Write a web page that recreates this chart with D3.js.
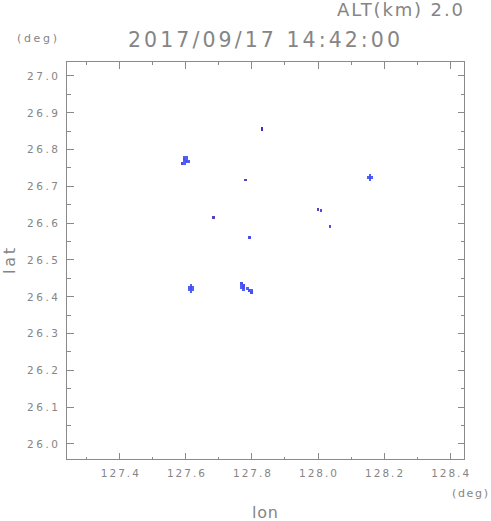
<!DOCTYPE html>
<html>
<head>
<meta charset="utf-8">
<script src="https://cdn.jsdelivr.net/npm/d3@7"></script>
<style>
  html, body { margin: 0; padding: 0; background: #fff; }
  svg { display: block; }
  text { font-family: "DejaVu Sans", "Liberation Sans", sans-serif; fill: #858585; }
</style>
</head>
<body>
<svg id="chart" width="491" height="521"></svg>
<script>
// ---------- data ----------
const titleText = "2017/09/17 14:42:00";
const altText = "ALT(km) 2.0";
const xLabel = "lon";
const yLabel = "lat";
const unitText = "(deg)";

const lonDomain = [127.240, 128.445];
const latDomain = [25.9565, 27.038];
const lonTicks = [127.4, 127.6, 127.8, 128.0, 128.2, 128.4];
const lonMinorTicks = [127.3, 127.5, 127.7, 127.9, 128.1, 128.3];
const latTicks = [26.0, 26.1, 26.2, 26.3, 26.4, 26.5, 26.6, 26.7, 26.8, 26.9, 27.0];
const latMinorTicks = [26.05, 26.15, 26.25, 26.35, 26.45, 26.55, 26.65, 26.75, 26.85, 26.95];

// echo cells: lon, lat, level
const cellLon = [
  127.597, 127.603, 127.597, 127.603, 127.597, 127.603, 127.609, 127.591, 127.597,
  127.618, 127.612, 127.618, 127.624, 127.612, 127.618, 127.624, 127.618,
  127.770, 127.770, 127.776, 127.770, 127.776, 127.776,
  127.788, 127.794, 127.800, 127.800,
  128.159, 128.153, 128.159, 128.165, 128.159,
  127.831, 127.831,
  127.782, 128.001, 128.010, 128.037, 128.037, 127.685, 127.794
];
const cellLat = [
  26.777, 26.777, 26.772, 26.772, 26.766, 26.766, 26.766, 26.761, 26.761,
  26.429, 26.424, 26.424, 26.424, 26.418, 26.418, 26.418, 26.413,
  26.435, 26.429, 26.429, 26.424, 26.424, 26.418,
  26.421, 26.416, 26.416, 26.410,
  26.728, 26.723, 26.723, 26.723, 26.717,
  26.857, 26.852,
  26.717, 26.636, 26.633, 26.592, 26.588, 26.614, 26.560
];
const cellLevel = [
  1, 1, 2, 1, 1, 2, 1, 2, 1,
  1, 1, 2, 1, 1, 2, 1, 1,
  2, 1, 2, 1, 2, 1,
  1, 2, 1, 2,
  1, 1, 2, 1, 1,
  4, 4,
  3, 3, 2, 2, 2, 3, 2
];
const levelColors = ["#4c62f6", "#4a4cf0", "#5843b8", "#3b2ec8"];
const cellSizeLon = 0.0068;
const cellSizeLat = 0.0061;

// ---------- layout ----------
const svg = d3.select("#chart");
const plot = { left: 66.5, right: 464.5, top: 61.5, bottom: 459.5 };

const x = d3.scaleLinear().domain(lonDomain).range([plot.left, plot.right]);
const y = d3.scaleLinear().domain(latDomain).range([plot.bottom, plot.top]);

const axisColor = "#8a8a8a";

// echoes
const cells = cellLon.map((lon, i) => ({ lon, lat: cellLat[i], level: cellLevel[i] }));
svg.append("g")
  .selectAll("rect")
  .data(cells)
  .join("rect")
  .attr("x", d => x(d.lon - cellSizeLon / 2))
  .attr("y", d => y(d.lat + cellSizeLat / 2))
  .attr("width", d => x(d.lon + cellSizeLon / 2) - x(d.lon - cellSizeLon / 2))
  .attr("height", d => y(d.lat - cellSizeLat / 2) - y(d.lat + cellSizeLat / 2))
  .attr("fill", d => levelColors[d.level - 1])
  .attr("shape-rendering", "crispEdges");

// axes (ticks inward)
function styleAxis(g) {
  g.select(".domain").remove();
  g.selectAll("line").attr("stroke", axisColor).attr("shape-rendering", "crispEdges");
}

const fmt = d3.format(".1f");

// bottom
svg.append("g").attr("transform", `translate(0,${plot.bottom})`)
  .call(d3.axisBottom(x).tickValues(lonTicks).tickSize(-7).tickPadding(12).tickFormat(fmt))
  .call(styleAxis)
  .call(g => g.selectAll("text")
    .attr("font-size", 10.5).attr("fill", "#858585")
    .attr("textLength", 38).attr("lengthAdjust", "spacing")
    .attr("y", 17).attr("dy", 0));
svg.append("g").attr("transform", `translate(0,${plot.bottom})`)
  .call(d3.axisBottom(x).tickValues(lonMinorTicks).tickSize(-3).tickFormat(""))
  .call(styleAxis);

// top
svg.append("g").attr("transform", `translate(0,${plot.top})`)
  .call(d3.axisTop(x).tickValues(lonTicks).tickSize(-7).tickFormat(""))
  .call(styleAxis);
svg.append("g").attr("transform", `translate(0,${plot.top})`)
  .call(d3.axisTop(x).tickValues(lonMinorTicks).tickSize(-3).tickFormat(""))
  .call(styleAxis);

// left
svg.append("g").attr("transform", `translate(${plot.left},0)`)
  .call(d3.axisLeft(y).tickValues(latTicks).tickSize(-7).tickPadding(8).tickFormat(fmt))
  .call(styleAxis)
  .call(g => g.selectAll("text")
    .attr("font-size", 10.5).attr("fill", "#858585")
    .attr("textLength", 31).attr("lengthAdjust", "spacing")
    .attr("x", -8.5).attr("dy", "0.36em"));
svg.append("g").attr("transform", `translate(${plot.left},0)`)
  .call(d3.axisLeft(y).tickValues(latMinorTicks).tickSize(-4).tickFormat(""))
  .call(styleAxis);

// right
svg.append("g").attr("transform", `translate(${plot.right},0)`)
  .call(d3.axisRight(y).tickValues(latTicks).tickSize(-7).tickFormat(""))
  .call(styleAxis);
svg.append("g").attr("transform", `translate(${plot.right},0)`)
  .call(d3.axisRight(y).tickValues(latMinorTicks).tickSize(-4).tickFormat(""))
  .call(styleAxis);

// frame
svg.append("rect")
  .attr("x", plot.left).attr("y", plot.top)
  .attr("width", plot.right - plot.left).attr("height", plot.bottom - plot.top)
  .attr("fill", "none").attr("stroke", axisColor).attr("stroke-width", 1);

// texts
svg.append("text").text(altText)
  .attr("x", 337).attr("y", 16).attr("font-size", 18)
  .attr("textLength", 126).attr("lengthAdjust", "spacing");

svg.append("text").text(titleText)
  .attr("x", 128).attr("y", 47).attr("font-size", 20.5)
  .attr("textLength", 272).attr("lengthAdjust", "spacing");

svg.append("text").text(unitText)
  .attr("x", 17).attr("y", 42).attr("font-size", 11)
  .attr("textLength", 40).attr("lengthAdjust", "spacing");

svg.append("text").text(unitText)
  .attr("x", 452).attr("y", 497).attr("font-size", 11)
  .attr("textLength", 36).attr("lengthAdjust", "spacing");

svg.append("text").text(xLabel)
  .attr("x", 252).attr("y", 518).attr("font-size", 16)
  .attr("textLength", 26).attr("lengthAdjust", "spacing");

svg.append("text").text(yLabel)
  .attr("transform", "translate(15,274) rotate(-90)")
  .attr("font-size", 16)
  .attr("textLength", 26).attr("lengthAdjust", "spacing");
</script>
</body>
</html>
